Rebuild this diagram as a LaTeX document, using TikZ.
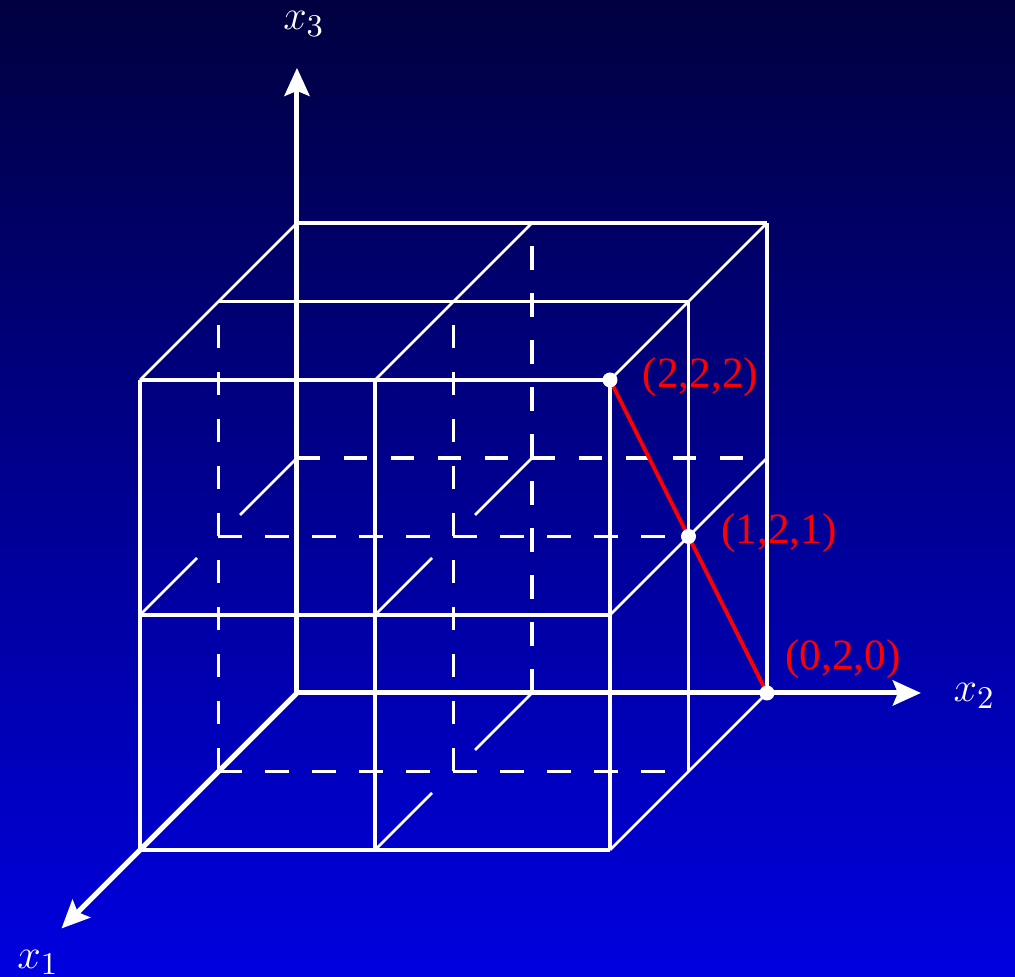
\documentclass[tikz,border=0pt]{standalone}
\usepackage{fontspec}
\newfontfamily\ptfont{Liberation Serif}
\usepackage{tikz}
\usetikzlibrary{arrows.meta,positioning}
\definecolor{bgtop}{RGB}{0,0,64}
\definecolor{bgbot}{RGB}{0,0,224}
\begin{document}
\begin{tikzpicture}[
  x={(-0.785cm,-0.785cm)},y={(2.35cm,0cm)},z={(0cm,2.35cm)},
  edge/.style   ={white,line width=0.034cm},
  hid/.style    ={edge,dash pattern=on 0.235cm off 0.235cm},
  diag/.style   ={white,line width=0.026cm},
  hiddiag/.style={diag,dash pattern=on 0.806cm off 0.608cm},
  axis/.style   ={white,line width=0.05cm,
                  -{Stealth[length=0.28cm,width=0.25cm,inset=0.05cm]}},
  seg/.style    ={red,line width=0.038cm},
  dot/.style    ={circle,fill=white,inner sep=0pt,minimum size=0.15cm},
  ptlbl/.style  ={text=red,inner sep=0pt,
                  font=\ptfont\fontsize{12.3}{14}\selectfont},
  axlbl/.style  ={text=white,inner sep=0pt,
                  font=\fontsize{12.5}{15}\selectfont}
]
\useasboundingbox (-2.97cm,-2.84cm) rectangle (7.18cm,6.93cm);
\shade[top color=bgtop,bottom color=bgbot]
  (-2.97cm,-2.84cm) rectangle (7.18cm,6.93cm);
\foreach \i in {0,1,2}{\foreach \j in {0,1,2}{\foreach \k in {0,1,2}{
  \coordinate (p\i\j\k) at (\i,\j,\k);}}}
\foreach \a/\b in {p200/p202,p210/p212,p220/p222,p120/p122,p020/p022,
                   p200/p220,p201/p221,p202/p222,p102/p122,p002/p022}
  \draw[edge](\a)--(\b);
\foreach \a/\b in {p100/p102,p110/p112,p010/p012,
                   p100/p120,p101/p121,p001/p021}
  \draw[hid](\a)--(\b);
\foreach \a/\b in {p002/p202,p012/p212,p020/p220,p021/p221,p022/p222}
  \draw[diag](\a)--(\b);
\foreach \a/\b in {p001/p201,p010/p210,p011/p211}
  \draw[hiddiag](\a)--(\b);
\coordinate (e1) at (3,0,0);
\coordinate (e2) at (0,2.655,0);
\coordinate (e3) at (0,0,2.66);
\foreach \e in {e1,e2,e3}
  \draw[axis](p000)--(\e);
\node[axlbl,below left=0.21cm and 0.02cm of e1](lx1){$x_1$};
\node[axlbl,right=0.32cm of e2,yshift=-0.03cm](lx2){$x_2$};
\node[axlbl,above=0.31cm of e3,xshift=0.07cm](lx3){$x_3$};
\draw[seg](p222)--(p020);
\node[dot](d222) at (p222){};
\node[dot](d121) at (p121){};
\node[dot](d020) at (p020){};
\node[ptlbl,right=0.24cm of d222,yshift=0.03cm](l222){(2,2,2)};
\node[ptlbl,right=0.24cm of d121,yshift=0.03cm](l121){(1,2,1)};
\node[ptlbl,above right=0.08cm and 0.12cm of d020](l020){(0,2,0)};
\end{tikzpicture}
\end{document}
